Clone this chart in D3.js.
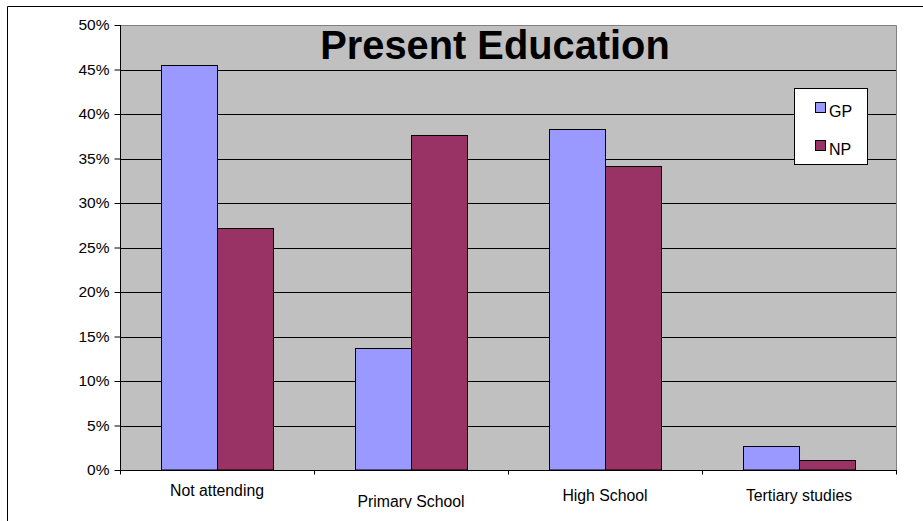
<!DOCTYPE html>
<html>
<head>
<meta charset="utf-8">
<script src="https://cdn.jsdelivr.net/npm/d3@7"></script>
<style>
  html, body { margin: 0; padding: 0; background: #fff; }
  svg { display: block; font-family: "Liberation Sans", Arial, sans-serif; }
</style>
</head>
<body>
<svg id="chart" width="923" height="521"></svg>
<script>
// Education status, share of each group
const categories = ["Not attending", "Primary School", "High School", "Tertiary studies"];
const seriesNames = ["GP", "NP"];
const gpValues = [45.5, 13.7, 38.3, 2.7];
const npValues = [27.2, 37.6, 34.2, 1.1];
const yTicks = [0, 5, 10, 15, 20, 25, 30, 35, 40, 45, 50];
const labelOffsets = [0, 11, 5, 5];   // vertical stagger of category labels
const colors = { GP: "#9999ff", NP: "#993366" };

const svg = d3.select("#chart");

// frame of the chart area
svg.append("path")
  .attr("d", "M7.5,521 L7.5,6.5 L923,6.5")
  .attr("fill", "none").attr("stroke", "#000").attr("stroke-width", 1);

const plot = { left: 120, right: 896, top: 25, bottom: 470 };

const y = d3.scaleLinear().domain([0, 50]).range([plot.bottom, plot.top]);
const x0 = d3.scaleBand().domain(categories).range([plot.left, plot.right]).padding(0);
const x1 = d3.scaleBand().domain(seriesNames).range([0, x0.bandwidth()])
  .paddingInner(0).paddingOuter(0.732);

// plot background
svg.append("rect")
  .attr("x", plot.left).attr("y", plot.top)
  .attr("width", plot.right - plot.left).attr("height", plot.bottom - plot.top)
  .attr("fill", "#c0c0c0");

// horizontal gridlines
svg.append("g").selectAll("line")
  .data(yTicks.filter(t => t > 0 && t < 50))
  .join("line")
  .attr("x1", plot.left).attr("x2", plot.right)
  .attr("y1", d => Math.round(y(d)) + 0.5).attr("y2", d => Math.round(y(d)) + 0.5)
  .attr("stroke", "#000").attr("stroke-width", 1);

// plot border (top and right)
svg.append("path")
  .attr("d", `M${plot.left},${plot.top + 0.5} L${plot.right + 0.5},${plot.top + 0.5} L${plot.right + 0.5},${plot.bottom}`)
  .attr("fill", "none").attr("stroke", "#808080").attr("stroke-width", 1);

// bars
const rows = categories.map((c, i) => ({ cat: c, values: [
  { key: "GP", value: gpValues[i] },
  { key: "NP", value: npValues[i] }
]}));

const groups = svg.append("g").selectAll("g")
  .data(rows).join("g")
  .attr("transform", d => `translate(${x0(d.cat)},0)`);

groups.selectAll("rect")
  .data(d => d.values).join("rect")
  .attr("x", d => Math.round(x1(d.key)) + 0.5)
  .attr("y", d => Math.round(y(d.value)) + 0.5)
  .attr("width", x1.bandwidth())
  .attr("height", d => plot.bottom - Math.round(y(d.value)) - 0.5)
  .attr("fill", d => colors[d.key])
  .attr("stroke", "#000").attr("stroke-width", 1);

// y axis
const yAxis = svg.append("g")
  .attr("transform", `translate(${plot.left + 0.5},0)`)
  .call(d3.axisLeft(y).tickValues(yTicks).tickSize(6).tickPadding(5)
    .tickFormat(d => d + "%"));
yAxis.select(".domain").attr("d", `M0,${plot.top} V${plot.bottom}`).attr("stroke", "#000");
yAxis.selectAll(".tick line").attr("stroke", "#000");
yAxis.selectAll(".tick text")
  .attr("font-size", 15.5).attr("fill", "#000")
  .attr("font-family", "Liberation Sans, Arial, sans-serif");

// x axis
const xAxisG = svg.append("g")
  .attr("transform", `translate(0,${plot.bottom + 0.5})`);
xAxisG.append("line")
  .attr("x1", plot.left).attr("x2", plot.right + 1)
  .attr("stroke", "#000");
xAxisG.selectAll("line.tick")
  .data(categories.map(c => x0(c)).concat([plot.right]))
  .join("line").attr("class", "tick")
  .attr("x1", d => d + 0.5).attr("x2", d => d + 0.5)
  .attr("y1", 0).attr("y2", 4)
  .attr("stroke", "#000");

// category labels, clipped at the bottom of the label strip
svg.append("clipPath").attr("id", "labelClip")
  .append("rect").attr("x", 0).attr("y", 472).attr("width", 923).attr("height", 36);

svg.append("g").attr("clip-path", "url(#labelClip)")
  .selectAll("text").data(categories).join("text")
  .attr("x", d => x0(d) + x0.bandwidth() / 2)
  .attr("y", (d, i) => 496 + labelOffsets[i])
  .attr("text-anchor", "middle")
  .attr("font-size", 15.8)
  .attr("fill", "#000")
  .text(d => d);

// title
svg.append("text")
  .attr("x", 495).attr("y", 59)
  .attr("text-anchor", "middle")
  .attr("font-size", 39.8).attr("font-weight", "bold")
  .attr("fill", "#000")
  .text("Present Education");

// legend
const legend = svg.append("g");
legend.append("rect")
  .attr("x", 794.5).attr("y", 88.5).attr("width", 73).attr("height", 76)
  .attr("fill", "#fff").attr("stroke", "#000");
const legendRows = legend.selectAll("g.item")
  .data(seriesNames).join("g").attr("class", "item")
  .attr("transform", (d, i) => `translate(0,${i * 38})`);
legendRows.append("rect")
  .attr("x", 815.5).attr("y", 102.5).attr("width", 10).attr("height", 10)
  .attr("fill", d => colors[d]).attr("stroke", "#000");
legendRows.append("text")
  .attr("x", 829).attr("y", 117)
  .attr("font-size", 16).attr("fill", "#000")
  .text(d => d);
</script>
</body>
</html>
